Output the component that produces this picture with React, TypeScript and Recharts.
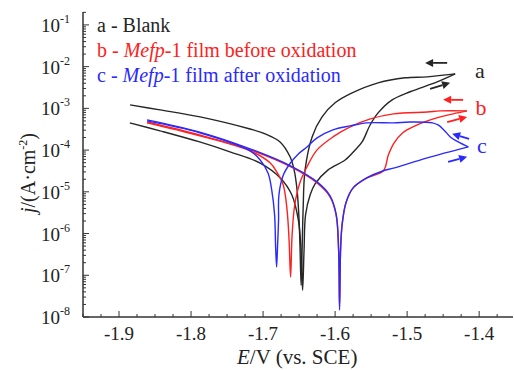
import { LineChart, Line, XAxis, YAxis, ReferenceLine } from 'recharts';

const FONT = '"Liberation Serif", "Times New Roman", serif';
const AXIS = '#333333';
const BLACK = '#262626';
const RED = '#ff2020';
const BLUE = '#2a2aff';

// potential E (V vs. SCE), current density j (A/cm2)
const blankForward: [number, number][] = [
  [-1.885, 4.5e-4], [-1.843, 2.9e-4], [-1.788, 1.57e-4], [-1.746, 9.1e-5], [-1.704, 4.9e-5],
  [-1.676, 2.15e-5], [-1.66, 8.4e-6], [-1.651, 2.1e-6], [-1.6472, 4.0e-7], [-1.6451, 4.4e-8],
  [-1.6431, 4.0e-7], [-1.641, 2.8e-6], [-1.6347, 8.4e-6], [-1.6278, 1.55e-5], [-1.6097, 3.35e-5],
  [-1.5861, 5.8e-5], [-1.5722, 1.01e-4], [-1.5625, 1.57e-4], [-1.5514, 4.0e-4], [-1.5403, 7.8e-4],
  [-1.5208, 1.6e-3], [-1.4958, 2.5e-3], [-1.4583, 4.3e-3], [-1.4333, 6.7e-3],
];
const blankReverse: [number, number][] = [
  [-1.4333, 6.7e-3], [-1.4722, 5.7e-3], [-1.5028, 5.4e-3], [-1.5403, 4.1e-3], [-1.5764, 2.35e-3],
  [-1.6, 1.36e-3], [-1.6181, 6.25e-4], [-1.6319, 2.07e-4], [-1.6417, 3.35e-5], [-1.6444, 3.7e-6],
  [-1.6458, 4.0e-7], [-1.6472, 5.8e-8], [-1.6486, 4.0e-7], [-1.65, 2.1e-6], [-1.6528, 1.11e-5],
  [-1.6569, 3.35e-5], [-1.6625, 6.9e-5], [-1.6764, 1.57e-4], [-1.6972, 2.45e-4], [-1.7181, 3.2e-4],
  [-1.7875, 6.25e-4], [-1.8431, 9.2e-4], [-1.8847, 1.21e-3],
];
const beforeForward: [number, number][] = [
  [-1.861, 4.7e-4], [-1.788, 2.3e-4], [-1.718, 1.01e-4], [-1.662, 4.0e-5], [-1.625, 1.63e-5],
  [-1.607, 7.6e-6], [-1.5986, 2.8e-6], [-1.5951, 4.0e-7], [-1.5938, 1.74e-8], [-1.5924, 4.0e-7],
  [-1.5903, 1.6e-6], [-1.585, 5.4e-6], [-1.575, 1.24e-5], [-1.556, 2.15e-5], [-1.533, 3.2e-5],
  [-1.526, 7.7e-5], [-1.518, 1.49e-4], [-1.506, 2.6e-4], [-1.489, 3.8e-4], [-1.472, 5.0e-4],
  [-1.454, 6.25e-4], [-1.436, 7.4e-4], [-1.417, 8.7e-4],
];
const beforeReverse: [number, number][] = [
  [-1.417, 8.7e-4], [-1.454, 8.7e-4], [-1.472, 8.2e-4], [-1.519, 7.4e-4], [-1.551, 5.6e-4],
  [-1.579, 3.6e-4], [-1.603, 2.07e-4], [-1.625, 1.01e-4], [-1.639, 4.0e-5], [-1.649, 1.63e-5],
  [-1.656, 4.9e-6], [-1.6597, 9.2e-7], [-1.6618, 9.1e-8], [-1.6639, 7.0e-7], [-1.6667, 3.7e-6],
  [-1.672, 1.46e-5], [-1.681, 3.0e-5], [-1.69, 4.9e-5], [-1.718, 9.6e-5], [-1.788, 2.2e-4],
  [-1.861, 4.5e-4],
];
const afterForward: [number, number][] = [
  [-1.861, 5.3e-4], [-1.788, 2.7e-4], [-1.718, 1.07e-4], [-1.662, 4.2e-5], [-1.625, 1.73e-5],
  [-1.607, 8.0e-6], [-1.5986, 2.95e-6], [-1.5951, 4.0e-7], [-1.5938, 1.47e-8], [-1.5924, 4.0e-7],
  [-1.5903, 1.6e-6], [-1.585, 5.4e-6], [-1.575, 1.24e-5], [-1.556, 2.15e-5], [-1.533, 3.2e-5],
  [-1.519, 3.7e-5], [-1.472, 6.5e-5], [-1.415, 1.19e-4],
];
const afterReverse: [number, number][] = [
  [-1.415, 1.19e-4], [-1.429, 1.57e-4], [-1.44, 2.07e-4], [-1.449, 3.05e-4], [-1.457, 4.0e-4],
  [-1.465, 4.5e-4], [-1.496, 4.7e-4], [-1.519, 4.5e-4], [-1.556, 4.5e-4], [-1.579, 3.8e-4],
  [-1.603, 3.05e-4], [-1.625, 1.96e-4], [-1.639, 1.19e-4], [-1.651, 8.1e-5], [-1.662, 4.9e-5],
  [-1.672, 2.5e-5], [-1.678, 8.4e-6], [-1.6785, 2.1e-6], [-1.6799, 5.0e-7], [-1.6812, 1.58e-7],
  [-1.6826, 5.0e-7], [-1.684, 2.8e-6], [-1.688, 1.11e-5], [-1.693, 2.8e-5], [-1.704, 5.8e-5],
  [-1.718, 9.6e-5], [-1.788, 2.6e-4], [-1.861, 5.0e-4],
];

// scan direction arrows: [E start, j start, E end, j end]
const blackArrows = [[-1.4444, 1.23e-2, -1.475, 1.23e-2], [-1.4681, 2.94e-3, -1.4403, 4.1e-3]];
const redArrows = [[-1.4222, 1.6e-3, -1.45, 1.6e-3], [-1.4444, 4.7e-4, -1.4167, 6.25e-4]];
const blueArrows = [[-1.4139, 1.86e-4, -1.4375, 2.45e-4], [-1.4431, 5.2e-5, -1.4167, 6.9e-5]];

const X_MAJOR = [-1.9, -1.8, -1.7, -1.6, -1.5, -1.4];
const X_DOMAIN = [-1.95, -1.353];
const Y_DECADES = [1e-8, 1e-7, 1e-6, 1e-5, 1e-4, 1e-3, 1e-2, 1e-1];
const Y_DOMAIN = [1e-8, 0.204];

const xTicks: number[] = [];
for (let i = -78; i <= -54; i++) xTicks.push(+(i * 0.025).toFixed(3));
const yTicks: number[] = Y_DECADES.flatMap((d) => [1, 2, 3, 4, 5, 6, 7, 8, 9].map((k) => k * d)).filter(
  (v) => v <= Y_DOMAIN[1],
);

const toPoints = (arr: [number, number][]) => arr.map(([E, j]) => ({ E, j }));

// centripetal catmull-rom, the scans run back and forth in E so monotone curves won't do
const smoothCurve = (context: any) => {
  let pts: number[][] = [];
  return {
    areaStart() {},
    areaEnd() {},
    lineStart() {
      pts = [];
    },
    point(x: number, y: number) {
      pts.push([+x, +y]);
    },
    lineEnd() {
      const n = pts.length;
      if (!n) return;
      context.moveTo(pts[0][0], pts[0][1]);
      for (let i = 0; i < n - 1; i++) {
        const p0 = pts[Math.max(i - 1, 0)];
        const p1 = pts[i];
        const p2 = pts[i + 1];
        const p3 = pts[Math.min(i + 2, n - 1)];
        const d01 = Math.hypot(p1[0] - p0[0], p1[1] - p0[1]);
        const d12 = Math.hypot(p2[0] - p1[0], p2[1] - p1[1]);
        const d23 = Math.hypot(p3[0] - p2[0], p3[1] - p2[1]);
        const a01 = Math.sqrt(d01);
        const a12 = Math.sqrt(d12);
        const a23 = Math.sqrt(d23);
        let c1x = p1[0];
        let c1y = p1[1];
        let c2x = p2[0];
        let c2y = p2[1];
        if (a01 > 1e-9) {
          const a = 2 * d01 + 3 * a01 * a12 + d12;
          const m = 3 * a01 * (a01 + a12);
          c1x = (p1[0] * a - p0[0] * d12 + p2[0] * d01) / m;
          c1y = (p1[1] * a - p0[1] * d12 + p2[1] * d01) / m;
        }
        if (a23 > 1e-9) {
          const b = 2 * d23 + 3 * a23 * a12 + d12;
          const m = 3 * a23 * (a23 + a12);
          c2x = (p2[0] * b + p1[0] * d23 - p3[0] * d12) / m;
          c2y = (p2[1] * b + p1[1] * d23 - p3[1] * d12) / m;
        }
        context.bezierCurveTo(c1x, c1y, c2x, c2y, p2[0], p2[1]);
      }
    },
  };
};

const XTick = ({ x, y, payload }: any) => {
  const v = payload.value;
  const major = X_MAJOR.some((m) => Math.abs(m - v) < 1e-6);
  return (
    <g>
      <line x1={x} y1={y} x2={x} y2={y - (major ? 6 : 3)} stroke={AXIS} strokeWidth={1} />
      {major && (
        <text x={x} y={y + 23} textAnchor="middle" fontSize={19} fontFamily={FONT} fill="#222">
          {v.toFixed(1)}
        </text>
      )}
    </g>
  );
};

const YTick = ({ x, y, payload }: any) => {
  const v = payload.value;
  const lg = Math.log10(v);
  const major = Math.abs(lg - Math.round(lg)) < 1e-6;
  return (
    <g>
      <line x1={x} y1={y} x2={x + (major ? 6 : 3)} y2={y} stroke={AXIS} strokeWidth={1} />
      {major && (
        <text x={x - 13} y={y + 7} textAnchor="end" fontSize={19} fontFamily={FONT} fill="#222">
          10
          <tspan dy={-9} fontSize={12}>
            {Math.round(lg)}
          </tspan>
        </text>
      )}
    </g>
  );
};

const arrowShape = (color: string) => (props: any) => {
  const { x1, y1, x2, y2 } = props;
  const dx = x2 - x1;
  const dy = y2 - y1;
  const len = Math.hypot(dx, dy) || 1;
  const ux = dx / len;
  const uy = dy / len;
  const bx = x2 - ux * 8;
  const by = y2 - uy * 8;
  return (
    <g>
      <line x1={x1} y1={y1} x2={bx} y2={by} stroke={color} strokeWidth={1.8} />
      <polygon
        points={`${x2},${y2} ${bx - uy * 4},${by + ux * 4} ${bx + uy * 4},${by - ux * 4}`}
        fill={color}
      />
    </g>
  );
};

const series = [
  { key: 'aF', data: blankForward, color: BLACK },
  { key: 'aR', data: blankReverse, color: BLACK },
  { key: 'bF', data: beforeForward, color: RED },
  { key: 'bR', data: beforeReverse, color: RED },
  { key: 'cF', data: afterForward, color: BLUE },
  { key: 'cR', data: afterReverse, color: BLUE },
];
const arrows = [
  ...blackArrows.map((a) => ({ a, color: BLACK })),
  ...redArrows.map((a) => ({ a, color: RED })),
  ...blueArrows.map((a) => ({ a, color: BLUE })),
];

export default function App() {
  return (
    <div style={{ position: 'absolute', left: 0, top: 0, width: 514, height: 370, background: '#fff' }}>
      <LineChart width={514} height={370} margin={{ top: 12, right: 1, bottom: 0, left: 0 }}>
        <XAxis
          dataKey="E"
          type="number"
          domain={X_DOMAIN}
          ticks={xTicks}
          interval={0}
          allowDataOverflow
          height={53}
          tickSize={0}
          tickMargin={0}
          tickLine={false}
          tick={<XTick />}
          axisLine={{ stroke: AXIS, strokeWidth: 1.5 }}
        />
        <XAxis xAxisId="top" orientation="top" type="number" domain={X_DOMAIN} height={0} tick={false} tickLine={false} axisLine={{ stroke: AXIS, strokeWidth: 1.5 }} />
        <YAxis
          dataKey="j"
          scale="log"
          type="number"
          domain={Y_DOMAIN}
          ticks={yTicks}
          interval={0}
          allowDataOverflow
          width={83}
          tickSize={0}
          tickMargin={0}
          tickLine={false}
          tick={<YTick />}
          axisLine={{ stroke: AXIS, strokeWidth: 1.5 }}
        />
        <YAxis yAxisId="right" orientation="right" width={0} tick={false} tickLine={false} axisLine={{ stroke: AXIS, strokeWidth: 1.5 }} />
        {series.map((s) => (
          <Line
            key={s.key}
            data={toPoints(s.data)}
            dataKey="j"
            type={smoothCurve as any}
            stroke={s.color}
            strokeWidth={1.4}
            dot={false}
            isAnimationActive={false}
          />
        ))}
        {arrows.map(({ a, color }, i) => (
          <ReferenceLine
            key={`arrow-${i}`}
            segment={[{ x: a[0], y: a[1] }, { x: a[2], y: a[3] }]}
            stroke={color}
            shape={arrowShape(color)}
          />
        ))}
      </LineChart>
      <svg width={514} height={370} style={{ position: 'absolute', left: 0, top: 0, pointerEvents: 'none' }} fontFamily={FONT}>
        <text x={97} y={32} fontSize={20} fill={BLACK}>a - Blank</text>
        <text x={97} y={57} fontSize={20} fill={RED}>
          b - <tspan fontStyle="italic">Mefp</tspan>-1 film before oxidation
        </text>
        <text x={97} y={82} fontSize={20} fill={BLUE}>
          c - <tspan fontStyle="italic">Mefp</tspan>-1 film after oxidation
        </text>
        <text x={480} y={78} fontSize={22} fill={BLACK} textAnchor="middle">a</text>
        <text x={481} y={115} fontSize={22} fill={RED} textAnchor="middle">b</text>
        <text x={482} y={153} fontSize={22} fill={BLUE} textAnchor="middle">c</text>
        <text x={237} y={364} fontSize={21} fill="#222">
          <tspan fontStyle="italic">E</tspan>/V (vs. SCE)
        </text>
        <text x={35} y={213} fontSize={20} fill="#222" transform="rotate(-90 35 213)">
          <tspan fontStyle="italic">j</tspan>/(A·cm<tspan dy={-8} fontSize={12}>-2</tspan>
          <tspan dy={8}>)</tspan>
        </text>
      </svg>
    </div>
  );
}
